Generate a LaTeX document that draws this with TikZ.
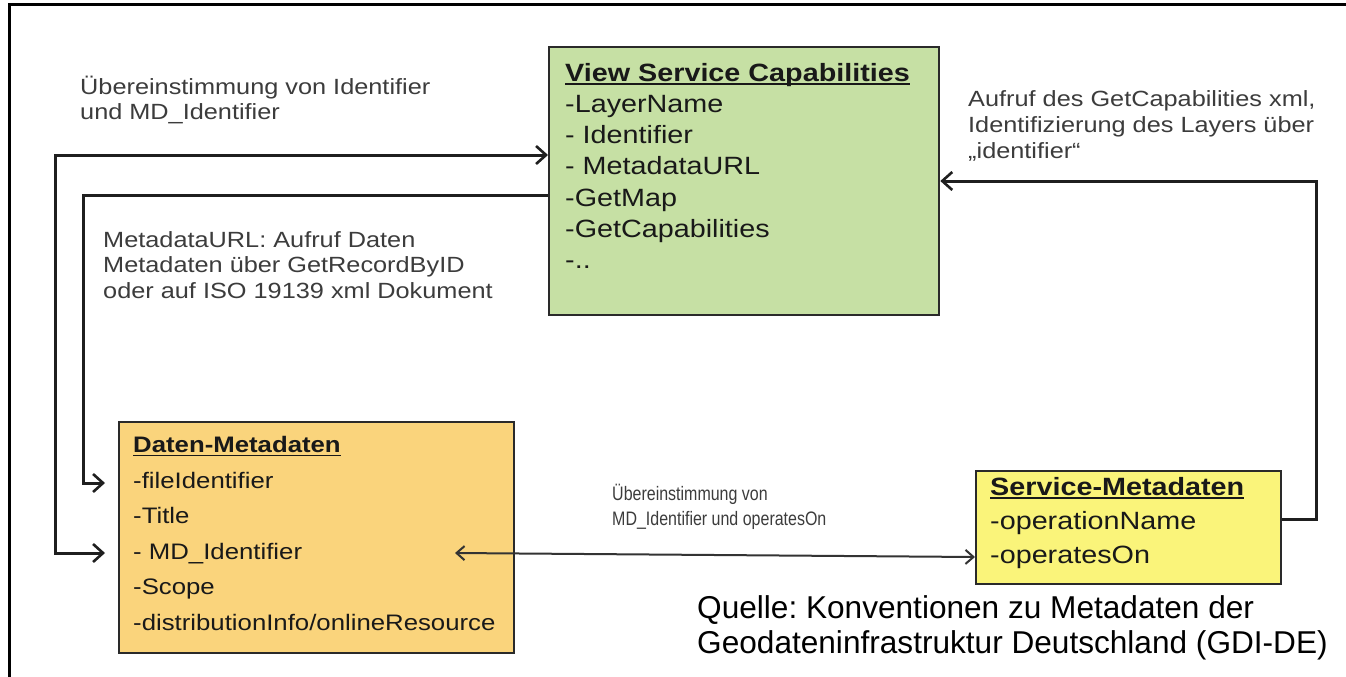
\documentclass[tikz,border=0pt]{standalone}
\usepackage{fontspec}
\setmainfont{Liberation Sans}
\newfontfamily\widefont{Liberation Sans}[FakeStretch=1.15]
\newfontfamily\narrowfont{Liberation Sans}[FakeStretch=0.82]
\usetikzlibrary{arrows.meta}
\frenchspacing
\definecolor{boxgreen}{HTML}{C6E0A4}
\definecolor{boxorange}{HTML}{FAD47C}
\definecolor{boxyellow}{HTML}{FAF47A}
\definecolor{edgecol}{HTML}{2A2A2A}
\definecolor{notegray}{HTML}{3C3C3C}
\newcommand\ulbox[1]{\setbox0\hbox{#1}\rlap{\rule[-4pt]{\wd0}{1.9pt}}\box0}
\begin{document}
\begin{tikzpicture}[x=1pt,y=-1pt,
  box/.style={draw=edgecol, line width=2.3pt, inner sep=0pt, anchor=north west},
  boxtext/.style={anchor=north west, align=left, inner sep=0pt, text=black!90},
  note/.style={anchor=north west, align=left, inner sep=0pt, text=notegray},
  conn/.style={draw=black!88, line width=3pt},
  thinconn/.style={draw=black!80, line width=2pt},
  bar/.tip={Straight Barb[length=10pt,width=18pt,line width=2.6pt]},
  sbar/.tip={Straight Barb[length=8pt,width=14pt,line width=2pt]}]
\useasboundingbox (0,0) rectangle (1346,677);
\fill[white] (0,0) rectangle (1346,677);
% outer frame (only top and left edges visible)
\draw[line width=3pt, black] (9,677) -- (9,5) -- (1346,5);

% boxes
\node[box, fill=boxgreen, minimum width=390pt, minimum height=268pt] (vsc) at (548,46) {};
\node[box, fill=boxorange, minimum width=395pt, minimum height=231pt] (dm) at (118,421) {};
\node[box, fill=boxyellow, minimum width=305pt, minimum height=113pt] (sm) at (975,470) {};

\node[boxtext, font=\widefont\fontsize{25}{31.2}\selectfont] (vsct) at (565,63)
  {\ulbox{\bfseries View Service Capabilities}\\-LayerName\\- Identifier\\- MetadataURL\\-GetMap\\-GetCapabilities\\-..};
\node[boxtext, font=\widefont\fontsize{22.4}{35.6}\selectfont] (dmt) at (133,436)
  {\ulbox{\bfseries Daten-Metadaten}\\-fileIdentifier\\-Title\\- MD\_Identifier\\-Scope\\-distributionInfo/onlineResource};
\node[boxtext, font=\widefont\fontsize{25}{34}\selectfont] (smt) at (990,477)
  {\ulbox{\bfseries Service-Metadaten}\\-operationName\\-operatesOn};

% notes
\node[note, font=\widefont\fontsize{22}{25}\selectfont] (n1) at (80,76)
  {Übereinstimmung von Identifier\\und MD\_Identifier};
\node[note, font=\widefont\fontsize{22}{25.5}\selectfont] (n2) at (103,231)
  {MetadataURL: Aufruf Daten\\Metadaten über GetRecordByID\\oder auf ISO 19139 xml Dokument};
\node[note, font=\widefont\fontsize{22}{26}\selectfont] (n3) at (968,90)
  {Aufruf des GetCapabilities xml,\\Identifizierung des Layers über\\„identifier“};
\node[note, font=\narrowfont\fontsize{19.5}{25}\selectfont] (n4) at (612,484)
  {Übereinstimmung von\\MD\_Identifier und operatesOn};
\node[anchor=north west, align=left, inner sep=0pt, text=black, font=\fontsize{31.6}{35}\selectfont] (src) at (697,595)
  {Quelle: Konventionen zu Metadaten der\\Geodateninfrastruktur Deutschland (GDI-DE)};

% helper coordinates
\coordinate (r1) at (0,155);
\coordinate (r2) at (0,195);
\coordinate (r3) at (0,181);
\coordinate (r4) at (0,519);
\coordinate (osn) at (0,557);
\coordinate (fi) at (105,483);
\coordinate (mi) at (105,553);
\coordinate (mdl) at (455,553);

% connectors
\draw[conn, bar-bar] (mi) -- (55,553) |- (vsc.west |- r1);
\draw[conn, -bar] (vsc.west |- r2) -| (83,483) -- (fi);
\draw[conn, -bar] (sm.east |- r4) -| (1316,181) -- (vsc.east |- r3);
\draw[thinconn, sbar-sbar] (mdl) -- (sm.west |- osn);
\end{tikzpicture}
\end{document}
